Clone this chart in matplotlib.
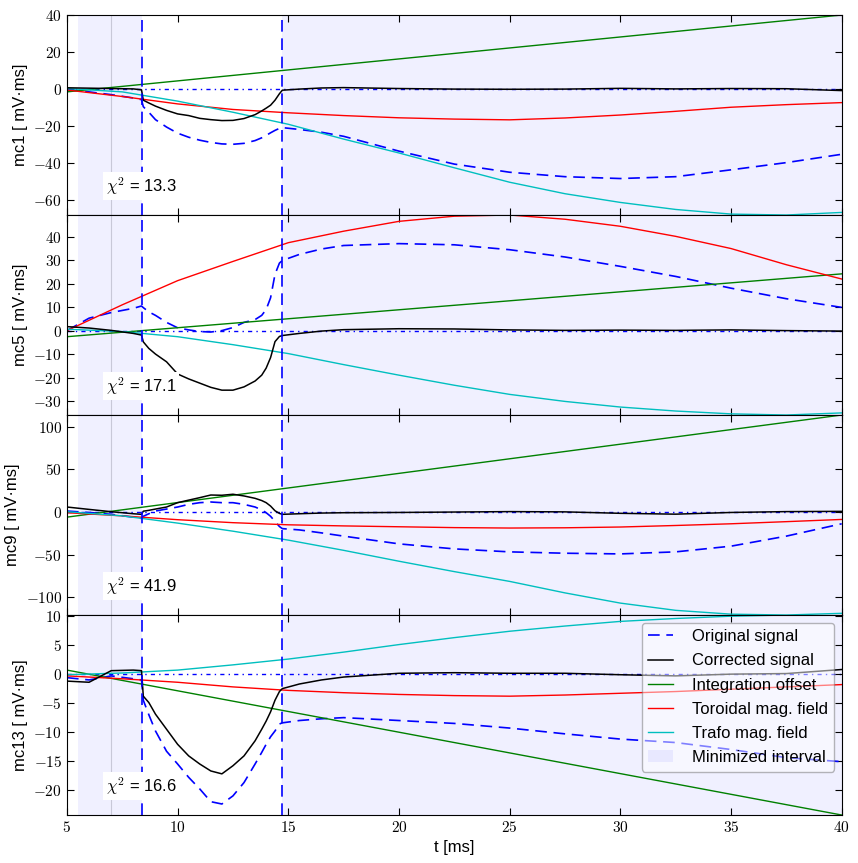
import numpy as np
import matplotlib
matplotlib.use("Agg")
import matplotlib.pyplot as plt
from matplotlib.ticker import MultipleLocator, FuncFormatter
from matplotlib.patches import Patch
from matplotlib.lines import Line2D

plt.rcParams['font.family'] = ['Liberation Sans', 'DejaVu Sans']
plt.rcParams['mathtext.fontset'] = 'cm'
plt.rcParams['xtick.direction'] = 'in'
plt.rcParams['ytick.direction'] = 'in'
plt.rcParams['xtick.top'] = True
plt.rcParams['ytick.right'] = True

# time axis for the measured signals [ms]
t_sig = [5, 6, 7, 8, 8.37, 8.45, 8.7, 9, 9.5, 10, 10.5, 11, 11.5, 12, 12.5,
         13, 13.5, 13.8, 14, 14.2, 14.4, 14.6, 14.73, 15.5, 16.5, 17.5, 20,
         22.5, 25, 27.5, 30, 32.5, 35, 37.5, 40]
# time axis for the fitted field contributions
t_fit = [5, 7.5, 10, 12.5, 15, 17.5, 20, 22.5, 25, 27.5, 30, 32.5, 35, 37.5, 40]
t_ends = [5, 40]

# interval limits
t_start = 5.5
t_gray = 7.0
t_cut1 = 8.37
t_cut2 = 14.73
t_stop = 40

coils = ['mc1', 'mc5', 'mc9', 'mc13']
chi2 = [13.3, 17.1, 41.9, 16.6]

# mc1
orig_mc1 = [-0.3, -1.5, -3, -4.8, -5.7, -9.5, -12.5, -16.5, -20.5, -23.8, -26, -27.6, -28.8, -29.6, -29.8,
            -29.3, -27.8, -26.3, -25, -23.6, -22.3, -21.2, -20.8, -21.8, -23.3, -25.5, -33.5,
            -40.5, -44.9, -47.3, -48.3, -47.3, -43.6, -39.7, -35.2]
corr_mc1 = [0.7, 0.5, 0.3, 0.1, -0.4, -6, -7.5, -9.2, -11.5, -13.4, -14.3, -15.8, -16.5, -17, -16.9,
            -15.9, -13.8, -11.8, -10.3, -8.7, -6, -2.5, -0.6, 0, 0.6, 0.8, 0.3,
            0, -0.1, 0, 0.4, 0.1, 0.3, 0.2, -0.8]
offset_mc1 = [-1.5, 40]
tor_mc1 = [-0.5, -4, -8, -11, -12.8, -14.3, -15.5, -16.2, -16.6, -15.6, -14, -12, -9.8, -8.4, -7.3]
trafo_mc1 = [0.3, -1.5, -6.5, -12.5, -19, -27, -34.5, -42.5, -50.3, -56.5, -61.2, -65, -67.5, -68, -66.6]

# mc5
orig_mc5 = [0, 5.3, 7.7, 9.5, 10.5, 9.8, 8, 6.5, 3.5, 1.2, 0.3, -0.4, -0.6, 0, 1.3,
            3.5, 4.7, 6.5, 9, 14, 24, 28.8, 29.9, 32.5, 34.8, 36.3, 37.1,
            36.6, 34.5, 31.4, 27.4, 23.1, 18.1, 13.6, 9.9]
corr_mc5 = [1.7, 1.1, 0.1, -1.2, -1.9, -4.8, -7.6, -10, -13.3, -18.5, -20.6, -22.4, -24.2, -25.4, -25.4,
            -24, -21.5, -19, -16, -11.5, -4.7, -2.5, -2.1, -1.2, -0.2, 0.4, 0.8,
            0.7, 0.3, 0.1, 0.2, 0.1, 0.3, 0, -0.2]
offset_mc5 = [-2.6, 24.2]
tor_mc5 = [0, 11, 21.3, 29.5, 37.5, 42.4, 46.6, 48.8, 49.3, 47.5, 44.5, 40.2, 35, 28.1, 22]
trafo_mc5 = [0.6, -0.4, -2.6, -6, -9.8, -14.5, -19, -23.3, -27.2, -30.2, -32.6, -34.3, -35.5, -36, -35.1]

# mc9
orig_mc9 = [1.2, -0.5, -2.7, -6, -7.5, -5, -2, 1.2, 3.5, 5.9, 9, 11, 11.8, 11, 11,
            9, 5.9, 2.5, -0.8, -5, -11, -17, -19.5, -21, -24.5, -28.3, -37.4,
            -43.3, -46.8, -48.4, -49.2, -46.8, -40.1, -28.3, -13.8]
corr_mc9 = [5.9, 3.1, 0.4, -2, -2.7, 1, 2, 3.5, 5.9, 11, 14, 16.9, 20, 19.7, 20.9,
            18.9, 16.1, 13.5, 11, 7, 1.5, -1.6, -2.7, -2, -1.2, -0.8, -0.5,
            0, 0.5, 0.2, -1.5, -2.5, -0.5, 0.5, 0.8]
offset_mc9 = [-6, 114]
tor_mc9 = [-0.8, -4.5, -9, -12.5, -15, -16.3, -17.3, -18.3, -18.8, -18.5, -17.6, -15.8, -13.8, -11.3, -8.7]
trafo_mc9 = [0.4, -4.5, -13, -22.5, -33, -45, -57.8, -70, -81.5, -95, -107, -115.5, -120, -121, -119]

# mc13
orig_mc13 = [-0.6, -1, -0.3, -0.8, -1, -4.5, -7, -9.8, -13.3, -15.5, -17.8, -19.8, -22, -22.4, -21,
             -18.7, -15.5, -13.5, -12.1, -10.8, -9.8, -8.6, -8.4, -8, -7.7, -7.5, -8,
             -8.5, -9.3, -10.3, -11.2, -11.8, -13, -14.4, -15.1]
corr_mc13 = [-1.2, -1.4, 0.6, 0.7, 0.6, -3.8, -4.9, -6.9, -9.5, -12.1, -14.1, -15.5, -16.7, -17.2, -15.8,
             -14.1, -11.5, -9.5, -8.1, -6.5, -4.5, -3, -2.5, -1.7, -1, -0.5, 0.15,
             0.25, 0.15, 0.15, -0.1, -0.3, 0, 0.1, 0.8]
offset_mc13 = [0.7, -24.3]
tor_mc13 = [-0.3, -0.8, -1.4, -2.2, -2.8, -3.2, -3.5, -3.7, -3.8, -3.6, -3.3, -3.0, -2.6, -2.2, -1.8]
trafo_mc13 = [-0.1, 0.2, 0.7, 1.6, 2.6, 3.8, 5.1, 6.3, 7.4, 8.3, 9.1, 9.6, 10.0, 10.2, 10.2]

panels = [
    (orig_mc1, corr_mc1, offset_mc1, tor_mc1, trafo_mc1),
    (orig_mc5, corr_mc5, offset_mc5, tor_mc5, trafo_mc5),
    (orig_mc9, corr_mc9, offset_mc9, tor_mc9, trafo_mc9),
    (orig_mc13, corr_mc13, offset_mc13, tor_mc13, trafo_mc13),
]
ytick_step = [20, 10, 50, 5]

span_color = (0, 0, 1, 0.06)
dash = (0, (7, 4))

fig, axes = plt.subplots(4, 1, sharex=True, figsize=(8.58, 8.63), dpi=100)
fig.subplots_adjust(left=0.078, right=0.981, top=0.9826, bottom=0.0556, hspace=0)

for ax, coil, chi, step, (orig, corr, off, tor, trafo) in zip(axes, coils, chi2, ytick_step, panels):
    ax.axvspan(t_start, t_cut1, color=span_color, lw=0, zorder=0)
    ax.axvspan(t_cut2, t_stop, color=span_color, lw=0, zorder=0)
    ax.axvline(t_gray, color='#c8c8d8', lw=0.8, zorder=0.5)
    ax.axhline(0, color='b', lw=1.0, ls=(0, (3, 3, 1, 3)), zorder=1)

    ax.plot(t_sig, orig, color='b', lw=1.2, ls=dash, zorder=2)
    ax.plot(t_ends, off, color='g', lw=1.0, zorder=2)
    ax.plot(t_fit, tor, color='r', lw=1.0, zorder=2)
    ax.plot(t_fit, trafo, color='c', lw=1.0, zorder=2)
    ax.plot(t_sig, corr, color='k', lw=1.1, zorder=3)

    ax.axvline(t_cut1, color='b', lw=1.2, ls=dash, zorder=4)
    ax.axvline(t_cut2, color='b', lw=1.2, ls=dash, zorder=4)

    allv = np.concatenate([orig, corr, off, tor, trafo])
    ax.set_ylim(allv.min(), allv.max())
    ax.set_xlim(5, 40)
    ax.yaxis.set_major_locator(MultipleLocator(step))
    ax.xaxis.set_major_locator(MultipleLocator(5))
    ax.yaxis.set_major_formatter(FuncFormatter(lambda v, p: r'$%g$' % v))
    ax.xaxis.set_major_formatter(FuncFormatter(lambda v, p: r'$%g$' % v))
    ax.tick_params(labelsize=11, length=5, width=0.8)
    ax.set_ylabel(coil + ' [ mV·ms]', fontsize=12)

    ax.text(0.05, 0.09, r'$\chi^2$ = %.1f' % chi, transform=ax.transAxes, fontsize=12,
            va='bottom', ha='left', zorder=6,
            bbox=dict(facecolor='white', edgecolor='none', pad=2))

axes[-1].set_xlabel('t [ms]', fontsize=12)

handles = [
    Line2D([], [], color='b', lw=1.2, ls=dash),
    Line2D([], [], color='k', lw=1.1),
    Line2D([], [], color='g', lw=1.0),
    Line2D([], [], color='r', lw=1.0),
    Line2D([], [], color='c', lw=1.0),
    Patch(facecolor=span_color, edgecolor='none'),
]
labels = ['Original signal', 'Corrected signal', 'Integration offset',
          'Toroidal mag. field', 'Trafo mag. field', 'Minimized interval']
leg = axes[-1].legend(handles, labels, loc='upper right', fontsize=12, handlelength=1.5,
                      handletextpad=1.1, labelspacing=0.55, fancybox=True, framealpha=0.5,
                      edgecolor='0.45', borderaxespad=0.45)
leg.set_zorder(10)

fig.savefig('out.png', dpi=100, facecolor='white')
